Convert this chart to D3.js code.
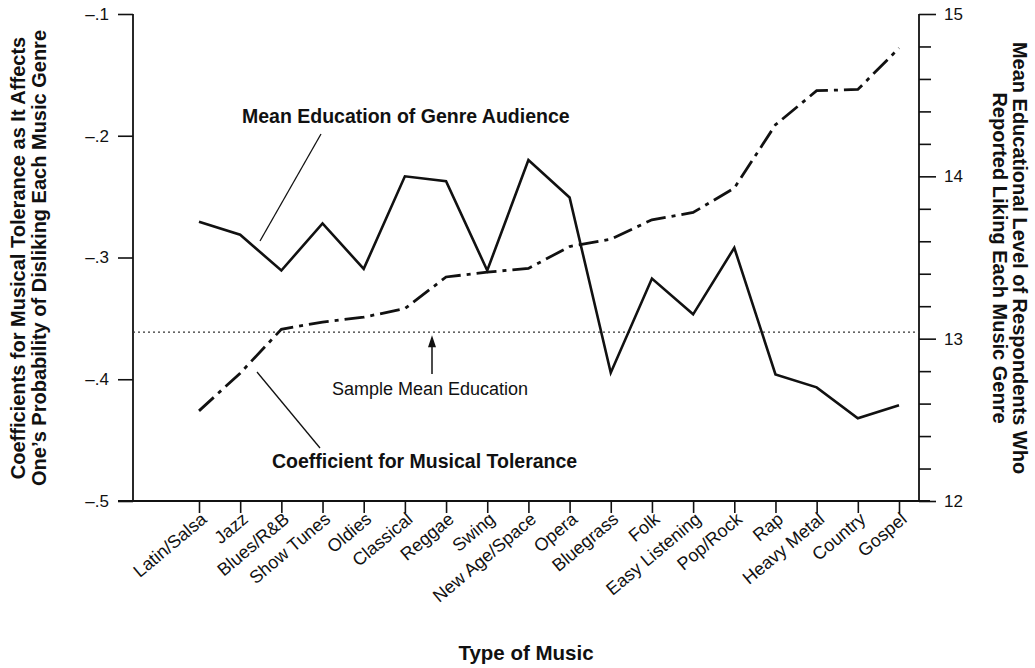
<!DOCTYPE html>
<html>
<head>
<meta charset="utf-8">
<script src="https://cdn.jsdelivr.net/npm/d3@7"></script>
<style>
  html, body { margin: 0; padding: 0; background: #fff; }
  svg { display: block; font-family: "Liberation Sans", Arial, Helvetica, sans-serif; }
</style>
</head>
<body>
<svg id="chart" width="1035" height="668"></svg>
<script>
// ---------------- data ----------------
const genres = ["Latin/Salsa", "Jazz", "Blues/R&B", "Show Tunes", "Oldies", "Classical",
  "Reggae", "Swing", "New Age/Space", "Opera", "Bluegrass", "Folk", "Easy Listening",
  "Pop/Rock", "Rap", "Heavy Metal", "Country", "Gospel"];
// Coefficient for musical tolerance (left axis, dash-dot line)
const toleranceCoef = [-0.426, -0.395, -0.359, -0.353, -0.349, -0.342, -0.316, -0.312, -0.309,
  -0.291, -0.285, -0.269, -0.263, -0.243, -0.191, -0.163, -0.162, -0.128];
// Mean education of genre audience (right axis, solid line)
const meanEducation = [13.72, 13.64, 13.42, 13.71, 13.43, 14.00, 13.97, 13.42, 14.10,
  13.87, 12.79, 13.37, 13.15, 13.56, 12.78, 12.70, 12.51, 12.59];
const sampleMeanEducation = 13.04;
const leftTicks = [-0.1, -0.2, -0.3, -0.4, -0.5];
const leftTickLabels = ["\u2013.1", "\u2013.2", "\u2013.3", "\u2013.4", "\u2013.5"];
const rightMajorTicks = [12, 13, 14, 15];
const rightMinorTicks = [12.2, 12.4, 12.6, 12.8, 13.2, 13.4, 13.6, 13.8, 14.2, 14.4, 14.6, 14.8];

// ---------------- layout ----------------
const svg = d3.select("#chart");
const xLeft = 133, xRight = 919, yTop = 14, yBottom = 501;

const x = d3.scalePoint().domain(genres).range([199, 899]);
const yL = d3.scaleLinear().domain([-0.5, -0.1]).range([yBottom, yTop]);
const yR = d3.scaleLinear().domain([12, 15]).range([yBottom, yTop]);

const ink = "#111";
const fontTick = 17;

// left axis
const gL = svg.append("g").attr("transform", `translate(${xLeft},0)`)
  .call(d3.axisLeft(yL).tickValues(leftTicks)
    .tickFormat((d, i) => leftTickLabels[i]).tickSize(15).tickPadding(9));
gL.select(".domain").attr("d", `M0,${yTop}V${yBottom}`);

// right axis (major + minor)
const gR = svg.append("g").attr("transform", `translate(${xRight},0)`)
  .call(d3.axisRight(yR).tickValues(rightMajorTicks).tickFormat(d3.format("d"))
    .tickSize(17).tickPadding(8));
gR.select(".domain").attr("d", `M0,${yTop}V${yBottom}`);
const gRm = svg.append("g").attr("transform", `translate(${xRight},0)`)
  .call(d3.axisRight(yR).tickValues(rightMinorTicks).tickFormat("").tickSize(12));
gRm.select(".domain").remove();

// bottom axis
const gB = svg.append("g").attr("transform", `translate(0,${yBottom})`)
  .call(d3.axisBottom(x).tickSize(12).tickFormat(""));
gB.select(".domain").attr("d", `M118,0H930`);
// x labels rotated
gB.selectAll(".xlab").data(genres).enter().append("text")
  .attr("class", "xlab")
  .attr("transform", d => `translate(${x(d) + 9},${20}) rotate(-40)`)
  .attr("text-anchor", "end")
  .attr("font-size", 18)
  .attr("fill", ink)
  .text(d => d);

[gL, gR, gRm, gB].forEach(g => {
  g.selectAll("line").attr("stroke", ink).attr("stroke-width", 1.6);
  g.selectAll(".domain").attr("stroke", ink).attr("stroke-width", 1.8);
  g.selectAll(".tick text").attr("font-size", fontTick).attr("fill", ink)
    .attr("font-family", "'Liberation Sans', Arial, sans-serif");
});

// sample mean education dotted line
svg.append("line")
  .attr("x1", xLeft).attr("x2", xRight)
  .attr("y1", yR(sampleMeanEducation)).attr("y2", yR(sampleMeanEducation))
  .attr("stroke", "#333").attr("stroke-width", 1.2).attr("stroke-dasharray", "2,3");

// lines
const lineEdu = d3.line().x((d, i) => x(genres[i])).y(d => yR(d));
const lineCoef = d3.line().x((d, i) => x(genres[i])).y(d => yL(d));

svg.append("path").datum(meanEducation)
  .attr("d", lineEdu).attr("fill", "none").attr("stroke", ink)
  .attr("stroke-width", 2.6).attr("stroke-linejoin", "miter");

svg.append("path").datum(toleranceCoef)
  .attr("d", lineCoef).attr("fill", "none").attr("stroke", ink)
  .attr("stroke-width", 2.8).attr("stroke-dasharray", "20,6,4,6");

// annotations
svg.append("text").attr("x", 242).attr("y", 123).attr("font-size", 19.5)
  .attr("font-weight", "bold").attr("fill", ink).text("Mean Education of Genre Audience");
svg.append("line").attr("x1", 321).attr("y1", 134).attr("x2", 260).attr("y2", 241)
  .attr("stroke", ink).attr("stroke-width", 1.3);

svg.append("text").attr("x", 272).attr("y", 468).attr("font-size", 19.5)
  .attr("font-weight", "bold").attr("fill", ink).text("Coefficient for Musical Tolerance");
svg.append("line").attr("x1", 257).attr("y1", 372).attr("x2", 320).attr("y2", 448)
  .attr("stroke", ink).attr("stroke-width", 1.3);

svg.append("text").attr("x", 332).attr("y", 395).attr("font-size", 18)
  .attr("fill", ink).text("Sample Mean Education");
const ax = 432, tipY = yR(sampleMeanEducation) + 3;
svg.append("line").attr("x1", ax).attr("x2", ax).attr("y1", 374).attr("y2", tipY + 8)
  .attr("stroke", ink).attr("stroke-width", 1.5);
svg.append("path")
  .attr("d", `M${ax},${tipY}L${ax - 4},${tipY + 12}L${ax + 4},${tipY + 12}Z`)
  .attr("fill", ink);

// axis titles
const lt = svg.append("text").attr("transform", `translate(0,258) rotate(-90)`)
  .attr("text-anchor", "middle").attr("font-size", 20).attr("font-weight", "bold").attr("fill", ink);
lt.append("tspan").attr("x", 0).attr("y", 25).text("Coefficients for Musical Tolerance as It Affects");
lt.append("tspan").attr("x", 0).attr("y", 46).text("One\u2019s Probability of Disliking Each Music Genre");

const rt = svg.append("text").attr("transform", `translate(0,258) rotate(90)`)
  .attr("text-anchor", "middle").attr("font-size", 20).attr("font-weight", "bold").attr("fill", ink);
rt.append("tspan").attr("x", 0).attr("y", -1013).text("Mean Educational Level of Respondents Who");
rt.append("tspan").attr("x", 0).attr("y", -993).text("Reported Liking Each Music Genre");

svg.append("text").attr("x", 526).attr("y", 660).attr("text-anchor", "middle")
  .attr("font-size", 20.5).attr("font-weight", "bold").attr("fill", ink).text("Type of Music");
</script>
</body>
</html>
